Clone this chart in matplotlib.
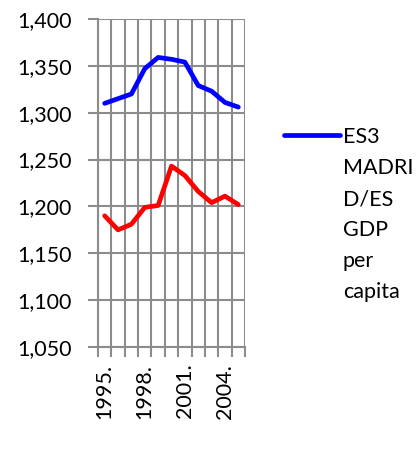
import numpy as np
import matplotlib
matplotlib.use('Agg')
import matplotlib.pyplot as plt
from matplotlib.lines import Line2D
from matplotlib.ticker import FuncFormatter

plt.rcParams['font.family'] = ['Lato', 'DejaVu Sans']

years = [1995, 1996, 1997, 1998, 1999, 2000, 2001, 2002, 2003, 2004, 2005]
madrid = [1310, 1315, 1320, 1347, 1359, 1357, 1354, 1329, 1323, 1311, 1306]
other = [1190, 1175, 1181, 1199, 1201, 1243, 1233, 1216, 1204, 1211, 1202]
legend_lines = ['ES3', 'MADRI', 'D/ES', 'GDP', 'per', 'capita']

fig = plt.figure(figsize=(4.2, 4.68), dpi=100)
ax = fig.add_axes([98 / 420, 1 - 347 / 468, 147 / 420, 328 / 468])

x = np.arange(len(years))
ax.plot(x, madrid, color='#0000FF', lw=3.4, solid_joinstyle='round', solid_capstyle='round', zorder=3)
ax.plot(x, other, color='#FF0000', lw=3.4, solid_joinstyle='round', solid_capstyle='round', zorder=3)

ax.set_xlim(-0.5, len(years) - 0.5)
ax.set_ylim(1050, 1400)
ax.set_yticks(np.arange(1050, 1401, 50))
ax.yaxis.set_major_formatter(FuncFormatter(lambda v, p: f'{int(v):,}'))

# category labels every third year, gridlines on category boundaries
ax.set_xticks(x[::3])
ax.set_xticklabels([f'{y}.' for y in years[::3]], rotation=90)
ax.set_xticks(np.arange(-0.5, len(years)), minor=True)
ax.tick_params(axis='x', which='major', length=0, pad=12)
ax.tick_params(axis='x', which='minor', length=7, width=1.5, color='#8c8c8c', direction='out')
ax.tick_params(axis='y', length=7, width=1.5, color='#8c8c8c', direction='out', pad=12)
ax.tick_params(labelsize=15.5)

ax.grid(True, which='minor', axis='x', color='#8c8c8c', lw=1.5)
ax.grid(True, which='major', axis='y', color='#8c8c8c', lw=1.5)
for s in ['top', 'right']:
    ax.spines[s].set_visible(False)
for s in ['left', 'bottom']:
    ax.spines[s].set_color('#8c8c8c')
    ax.spines[s].set_linewidth(1.5)

# legend, Excel-style: handle next to the first line of the wrapped label
fig.add_artist(Line2D([284 / 420, 340 / 420], [1 - 135 / 468] * 2, color='#0000FF', lw=3.4,
                      solid_capstyle='round', transform=fig.transFigure))
for i, txt in enumerate(legend_lines):
    fig.text(343 / 420, 1 - (143 + 31 * i) / 468, txt, fontsize=15.5, va='baseline', ha='left')

fig.savefig('out.png', dpi=100)
